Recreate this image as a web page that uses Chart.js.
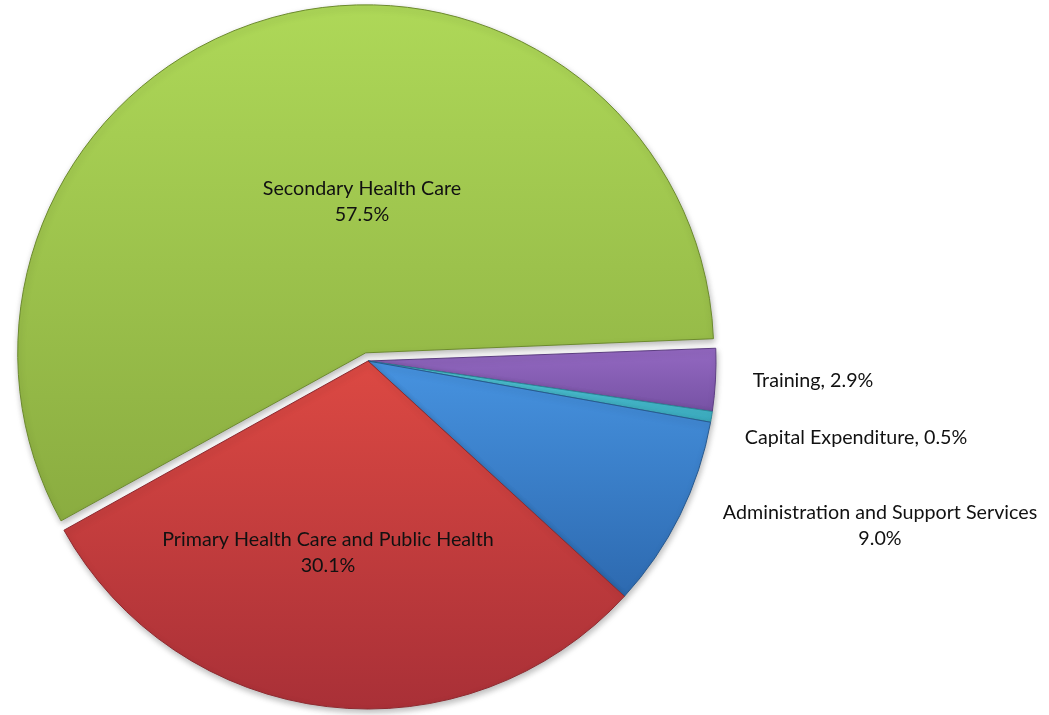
<!DOCTYPE html>
<html>
<head>
<meta charset="utf-8">
<script src="https://cdn.jsdelivr.net/npm/chart.js@4/dist/chart.umd.min.js"></script>
<style>
  html, body { margin: 0; padding: 0; background: #fff; }
  #wrap { width: 1049px; height: 715px; }
</style>
</head>
<body>
<div id="wrap"><canvas id="budgetPie" width="1049" height="715"></canvas></div>
<script>
'use strict';

// data, clockwise from just above 3 o'clock
const categories = ['Training', 'Capital Expenditure', 'Administration and Support Services',
  'Primary Health Care and Public Health', 'Secondary Health Care'];
const shares = [2.9, 0.5, 9.0, 30.1, 57.5];

// look: gradient stops down the whole pie height (0 = top, 1 = bottom)
const sliceStops = [
  [[0.48, '#9469c2'], [0.58, '#7450a2']],
  [[0.48, '#5ad2e2'], [0.6, '#38a9bd']],
  [[0.5, '#4793e0'], [0.85, '#2c68ae']],
  [[0.5, '#dc4943'], [1.0, '#a93037']],
  [[0.0, '#aed858'], [0.75, '#8aac40']],
];
const edgeColors = ['#5e3f83', '#2a8798', '#27598f', '#8e2a30', '#6c8a2e'];
const explode = [0, 0, 0, 0, 34]; // chart.js moves the slice by offset / 4
const pieRadius = 348;

// label placement relative to pie centre, and whether name/value share a line
const labelOffsets = [[445, 20], [488, 77], [512, 152], [-40, 179], [-6, -172]];
const labelInline = [true, true, false, false, false];

function sliceFill(context) {
  const i = context.dataIndex;
  const chart = context.chart;
  const area = chart.chartArea;
  if (!area) return sliceStops[i][0][1];
  const cy = (area.top + area.bottom) / 2;
  const g = chart.ctx.createLinearGradient(0, cy - pieRadius, 0, cy + pieRadius);
  sliceStops[i].forEach(([t, c]) => g.addColorStop(t, c));
  return g;
}

const sliceLabels = {
  id: 'sliceLabels',
  afterDatasetsDraw(chart) {
    const ctx = chart.ctx;
    const arcs = chart.getDatasetMeta(0).data;
    if (!arcs.length) return;
    const area = chart.chartArea;
    const cx = (area.left + area.right) / 2;
    const cy = (area.top + area.bottom) / 2;
    ctx.save();
    ctx.fillStyle = '#111';
    ctx.font = '19.7px Lato, "Open Sans", sans-serif';
    ctx.textAlign = 'center';
    ctx.textBaseline = 'middle';
    categories.forEach((name, i) => {
      const pct = shares[i].toFixed(1) + '%';
      const x = cx + labelOffsets[i][0];
      const y = cy + labelOffsets[i][1];
      if (labelInline[i]) {
        ctx.fillText(name + ', ' + pct, x, y);
      } else {
        ctx.fillText(name, x, y);
        ctx.fillText(pct, x, y + 26);
      }
    });
    ctx.restore();
  }
};

// pulled-out slices also grow by the offset in chart.js; keep them the same size
const softShadow = {
  id: 'softShadow',
  beforeDatasetsDraw(chart) {
    chart.getDatasetMeta(0).data.forEach((arc, i) => {
      if (explode[i]) arc.outerRadius = pieRadius - explode[i] / 4;
    });
    const ctx = chart.ctx;
    ctx.save();
    ctx.shadowColor = 'rgba(0, 0, 0, 0.28)';
    ctx.shadowBlur = 6;
    ctx.shadowOffsetX = 1;
    ctx.shadowOffsetY = 3;
  },
  afterDatasetsDraw(chart) {
    chart.ctx.restore();
  }
};

document.addEventListener('DOMContentLoaded', () => {
  const ctx = document.getElementById('budgetPie').getContext('2d');
  new Chart(ctx, {
    type: 'pie',
    data: {
      labels: categories,
      datasets: [{
        data: shares,
        backgroundColor: sliceFill,
        borderColor: edgeColors,
        borderWidth: 1,
        offset: explode,
        hoverOffset: 0,
        clip: false,
      }],
    },
    options: {
      responsive: false,
      animation: false,
      rotation: 87.9,
      radius: pieRadius,
      layout: { padding: { left: 0, right: 313, top: 7, bottom: 0 } },
      plugins: {
        legend: { display: false },
        tooltip: { enabled: false },
      },
      events: [],
    },
    plugins: [softShadow, sliceLabels],
  });
});
</script>
</body>
</html>
